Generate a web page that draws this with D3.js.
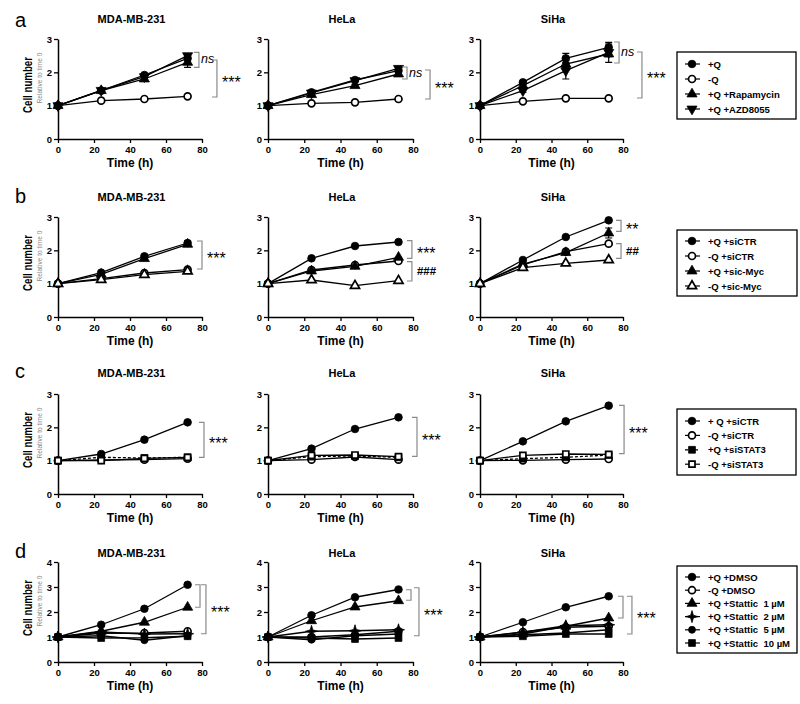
<!DOCTYPE html>
<html>
<head>
<meta charset="utf-8">
<script src="https://cdn.jsdelivr.net/npm/d3@7"></script>
<style>
  html, body { margin: 0; padding: 0; background: #fff; }
  svg { display: block; font-family: "Liberation Sans", Arial, sans-serif; }
</style>
</head>
<body>
<svg id="chart" width="800" height="704"></svg>
<script>
// ---------------- DATA ----------------
const times = [0, 24, 48, 72];
const xTicks = [0, 20, 40, 60, 80];
const yTicks3 = [0, 1, 2, 3];
const yTicks4 = [0, 1, 2, 3, 4];
const cellLines = ["MDA-MB-231", "HeLa", "SiHa"];
const panelLetters = ["a", "b", "c", "d"];

// Row a
const aLabels = ["+Q", "-Q", "+Q +Rapamycin", "+Q +AZD8055"];
const aMDA  = [[1, 1.45, 1.92, 2.42], [1, 1.15, 1.20, 1.28], [1, 1.45, 1.80, 2.30], [1, 1.46, 1.87, 2.50]];
const aMDAerr  = [[0, 0.02, 0.04, 0.08], [0, 0, 0, 0], [0, 0.02, 0.03, 0.15], [0, 0, 0.03, 0.06]];
const aHeLa = [[1, 1.40, 1.77, 2.05], [1, 1.07, 1.10, 1.20], [1, 1.33, 1.60, 1.95], [1, 1.38, 1.75, 2.12]];
const aHeLaErr = [[0, 0.03, 0.05, 0.06], [0, 0, 0, 0], [0, 0.02, 0.04, 0.05], [0, 0.02, 0.03, 0.06]];
const aSiHa = [[1, 1.70, 2.42, 2.75], [1, 1.13, 1.22, 1.22], [1, 1.60, 2.25, 2.55], [1, 1.45, 2.05, 2.60]];
const aSiHaErr = [[0, 0.04, 0.15, 0.10], [0, 0, 0, 0], [0, 0.05, 0.10, 0.08], [0, 0.05, 0.25, 0.30]];
const aSig = [
  [{x: 78.3, y1: 2.60, y2: 2.15, label: "ns"}, {x: 88.3, y1: 2.37, y2: 1.26, label: "***"}],
  [{x: 76.7, y1: 2.16, y2: 1.80, label: "ns"}, {x: 89.4, y1: 2.07, y2: 1.20, label: "***"}],
  [{x: 77.8, y1: 2.91, y2: 2.28, label: "ns"}, {x: 90.6, y1: 2.61, y2: 1.23, label: "***"}]
];

// Row b
const bLabels = ["+Q +siCTR", "-Q +siCTR", "+Q +sic-Myc", "-Q +sic-Myc"];
const bMDA  = [[1, 1.33, 1.82, 2.22], [1, 1.15, 1.32, 1.42], [1, 1.28, 1.75, 2.18], [1, 1.12, 1.27, 1.37]];
const bMDAerr  = [[0, 0.02, 0.04, 0.06], [0, 0, 0.03, 0.03], [0, 0, 0.03, 0.06], [0, 0, 0.03, 0.03]];
const bHeLa = [[1, 1.76, 2.13, 2.25], [1, 1.41, 1.56, 1.68], [1, 1.38, 1.52, 1.79], [1, 1.11, 0.94, 1.09]];
const bHeLaErr = [[0, 0, 0, 0], [0, 0, 0, 0], [0, 0, 0, 0], [0, 0, 0, 0]];
const bSiHa = [[1, 1.71, 2.40, 2.90], [1, 1.56, 1.96, 2.20], [1, 1.59, 1.93, 2.52], [1, 1.48, 1.61, 1.71]];
const bSiHaErr = [[0, 0, 0, 0], [0, 0, 0, 0], [0, 0, 0, 0.15], [0, 0, 0, 0]];
const bSig = [
  [{x: 80.0, y1: 2.28, y2: 1.44, label: "***"}],
  [{x: 79.4, y1: 2.29, y2: 1.76, label: "***"}, {x: 79.4, y1: 1.66, y2: 1.08, label: "###"}],
  [{x: 78.9, y1: 2.90, y2: 2.57, label: "**"}, {x: 78.9, y1: 2.20, y2: 1.76, label: "##"}]
];

// Row c
const cLabels = ["+ Q +siCTR", "-Q +siCTR", "+Q +siSTAT3", "-Q +siSTAT3"];
const cMDA  = [[1, 1.20, 1.63, 2.15], [1, 1.02, 1.03, 1.06], [1, 1.10, 1.08, 1.10], [1, 1.00, 1.07, 1.10]];
const cHeLa = [[1, 1.36, 1.95, 2.30], [1, 1.03, 1.11, 1.03], [1, 1.12, 1.14, 1.10], [1, 1.16, 1.17, 1.12]];
const cSiHa = [[1, 1.58, 2.18, 2.65], [1, 1.01, 1.03, 1.05], [1, 1.06, 1.10, 1.17], [1, 1.16, 1.20, 1.19]];
const cNoErr = [[0, 0, 0, 0], [0, 0, 0, 0], [0, 0, 0, 0], [0, 0, 0, 0]];
const cSig = [
  [{x: 81.1, y1: 2.15, y2: 1.10, label: "***"}],
  [{x: 82.2, y1: 2.30, y2: 1.13, label: "***"}],
  [{x: 80.6, y1: 2.66, y2: 1.21, label: "***"}]
];

// Row d
const dLabels = ["+Q +DMSO", "-Q +DMSO", "+Q +Stattic  1 \u00b5M", "+Q +Stattic  2 \u00b5M", "+Q +Stattic  5 \u00b5M", "+Q +Stattic  10 \u00b5M"];
const dMDA  = [[1, 1.49, 2.13, 3.09], [1, 1.15, 1.16, 1.23], [1, 1.23, 1.59, 2.19], [1, 1.20, 1.12, 1.13], [1, 1.05, 0.87, 1.05], [1, 0.96, 0.97, 1.03]];
const dHeLa = [[1, 1.87, 2.59, 2.90], [1, 1.00, 1.09, 1.23], [1, 1.65, 2.20, 2.45], [1, 1.23, 1.25, 1.29], [1, 0.89, 1.05, 1.12], [1, 0.96, 0.92, 0.96]];
const dSiHa = [[1, 1.59, 2.19, 2.63], [1, 1.20, 1.39, 1.43], [1, 1.12, 1.43, 1.76], [1, 1.19, 1.45, 1.49], [1, 1.09, 1.16, 1.29], [1, 1.03, 1.12, 1.12]];
const dNoErr = [[0, 0, 0, 0], [0, 0, 0, 0], [0, 0, 0, 0], [0, 0, 0, 0], [0, 0, 0, 0], [0, 0, 0, 0]];
const dSig = [
  [{x: 78.9, y1: 3.09, y2: 2.19, label: ""}, {x: 82.2, y1: 3.09, y2: 1.13, label: "***"}],
  [{x: 78.9, y1: 2.89, y2: 2.47, label: ""}, {x: 83.3, y1: 2.97, y2: 1.05, label: "***"}],
  [{x: 80.0, y1: 2.63, y2: 1.76, label: ""}, {x: 85.0, y1: 2.63, y2: 1.12, label: "***"}]
];

// ---------------- STYLES / LAYOUT ----------------
const aMarks = ["circle", "circleOpen", "triUp", "triDown"];
const bMarks = ["circle", "circleOpen", "triUp", "triOpen"];
const cMarks = ["circle", "circleOpen", "square", "squareOpen"];
const cDash  = [null, null, "3,2", null];
const dMarks = ["circle", "circleOpen", "triUp", "star4", "circleSmall", "square"];

const cols = [{x0: 58, x1: 202}, {x0: 268, x1: 413}, {x0: 480, x1: 623}];
const rowDefs = [
  {y0: 139, y1: 39,  ymax: 3, ticks: yTicks3, titleY: 23,  letterY: 27,  data: [aMDA, aHeLa, aSiHa], err: [aMDAerr, aHeLaErr, aSiHaErr], sig: aSig, marks: aMarks, dash: [], labels: aLabels,
   legend: {x0: 677, x1: 796, y0: 52, y1: 119, first: 64, step: 15}},
  {y0: 317, y1: 217, ymax: 3, ticks: yTicks3, titleY: 201, letterY: 203, data: [bMDA, bHeLa, bSiHa], err: [bMDAerr, bHeLaErr, bSiHaErr], sig: bSig, marks: bMarks, dash: [], labels: bLabels,
   legend: {x0: 677, x1: 797, y0: 230, y1: 296, first: 241, step: 15}},
  {y0: 494, y1: 394, ymax: 3, ticks: yTicks3, titleY: 377, letterY: 378, data: [cMDA, cHeLa, cSiHa], err: [cNoErr, cNoErr, cNoErr], sig: cSig, marks: cMarks, dash: cDash, labels: cLabels,
   legend: {x0: 677, x1: 796, y0: 409, y1: 475, first: 421, step: 14.4}},
  {y0: 662, y1: 562, ymax: 4, ticks: yTicks4, titleY: 557, letterY: 558, data: [dMDA, dHeLa, dSiHa], err: [dNoErr, dNoErr, dNoErr], sig: dSig, marks: dMarks, dash: [], labels: dLabels,
   legend: {x0: 677, x1: 797, y0: 566, y1: 653, first: 577, step: 13.2}}
];

const svg = d3.select("#chart");

const star4 = {
  draw(ctx, size) {
    const R = Math.sqrt(size) * 0.75, r = R * 0.32;
    for (let i = 0; i < 8; i++) {
      const a = -Math.PI / 2 + i * Math.PI / 4;
      const rr = i % 2 === 0 ? R : r;
      const px = rr * Math.cos(a), py = rr * Math.sin(a);
      if (i === 0) ctx.moveTo(px, py); else ctx.lineTo(px, py);
    }
    ctx.closePath();
  }
};

function marker(g, type, x, y) {
  let sym = d3.symbolCircle, size = 44, fill = "#000", rot = 0;
  switch (type) {
    case "circle": sym = d3.symbolCircle; size = 46; break;
    case "circleOpen": sym = d3.symbolCircle; size = 38; fill = "#fff"; break;
    case "circleSmall": sym = d3.symbolCircle; size = 38; break;
    case "triUp": sym = d3.symbolTriangle; size = 44; break;
    case "triDown": sym = d3.symbolTriangle; size = 44; rot = 180; break;
    case "triOpen": sym = d3.symbolTriangle; size = 36; fill = "#fff"; break;
    case "square": sym = d3.symbolSquare; size = 46; break;
    case "squareOpen": sym = d3.symbolSquare; size = 36; fill = "#fff"; break;
    case "star4": sym = star4; size = 64; break;
  }
  g.append("path")
    .attr("d", d3.symbol().type(sym).size(size)())
    .attr("transform", `translate(${x},${y}) rotate(${rot})`)
    .attr("fill", fill)
    .attr("stroke", "#000")
    .attr("stroke-width", fill === "#fff" ? 1.7 : 0.8);
}

function sigBracket(g, xs, ys, b) {
  const x = xs(b.x), ya = ys(b.y1), yb = ys(b.y2);
  g.append("path")
    .attr("d", `M${x - 5},${ya}H${x}V${yb}H${x - 5}`)
    .attr("fill", "none").attr("stroke", "#8a8a8a").attr("stroke-width", 1.2);
  if (!b.label) return;
  const mid = (ya + yb) / 2;
  const t = g.append("text").attr("x", x + (b.label === "ns" ? 2 : 5)).text(b.label).attr("fill", "#000");
  if (b.label === "ns") {
    t.attr("y", mid + 3.5).attr("font-size", 12.5).attr("font-style", "italic");
  } else if (b.label[0] === "*") {
    t.attr("y", mid + 9).attr("font-size", 16);
  } else {
    t.attr("y", mid + 4).attr("font-size", 11.5).attr("font-weight", "bold");
  }
}

rowDefs.forEach((row, ri) => {
  // panel letter
  svg.append("text").attr("x", 15).attr("y", row.letterY)
    .attr("font-size", 20).text(panelLetters[ri]);

  cols.forEach((col, ci) => {
    const g = svg.append("g");
    const xs = d3.scaleLinear().domain([0, 80]).range([col.x0, col.x1]);
    const ys = d3.scaleLinear().domain([0, row.ymax]).range([row.y0, row.y1]);

    // title
    g.append("text").attr("x", (col.x0 + col.x1) / 2 + 1.5).attr("y", row.titleY)
      .attr("text-anchor", "middle").attr("font-size", 11).attr("font-weight", "bold")
      .text(cellLines[ci]);

    // axes
    const xa = g.append("g").attr("transform", `translate(0,${row.y0})`)
      .call(d3.axisBottom(xs).tickValues(xTicks).tickSize(4).tickSizeOuter(0).tickPadding(3));
    const ya = g.append("g").attr("transform", `translate(${col.x0},0)`)
      .call(d3.axisLeft(ys).tickValues(row.ticks).tickSize(4).tickSizeOuter(0).tickPadding(2).tickFormat(d3.format("d")));
    [xa, ya].forEach(a => {
      a.select(".domain").attr("stroke-width", 1.5);
      a.selectAll(".tick line").attr("stroke-width", 1.3);
      a.selectAll("text").attr("font-size", 9.5).attr("font-weight", "bold")
        .attr("font-family", "'Liberation Sans', Arial, sans-serif");
    });

    g.append("text").attr("x", (col.x0 + col.x1) / 2).attr("y", row.y0 + 28)
      .attr("text-anchor", "middle").attr("font-size", 12).attr("font-weight", "bold")
      .text("Time (h)");

    if (ci === 0) {
      const cy = (row.y0 + row.y1) / 2 - 4;
      g.append("text").attr("transform", `translate(32,${cy}) rotate(-90)`)
        .attr("text-anchor", "middle").attr("font-size", 13).attr("font-weight", "bold")
        .attr("textLength", 56).attr("lengthAdjust", "spacingAndGlyphs")
        .text("Cell number");
      g.append("text").attr("transform", `translate(42,${cy - 7}) rotate(-90)`)
        .attr("text-anchor", "middle").attr("font-size", 6.6).attr("fill", "#8c8c8c")
        .text("Relative  to time 0");
    }

    const series = row.data[ci];
    const errs = row.err[ci];
    const line = d3.line().x((d, i) => xs(times[i])).y(d => ys(d));

    series.forEach((s, si) => {
      g.append("path").attr("d", line(s)).attr("fill", "none")
        .attr("stroke", "#000").attr("stroke-width", 1.3)
        .attr("stroke-dasharray", row.dash[si] || null);
    });
    series.forEach((s, si) => {
      s.forEach((v, i) => {
        const e = errs[si][i];
        if (e > 0) {
          const x = xs(times[i]);
          g.append("path")
            .attr("d", `M${x},${ys(v - e)}V${ys(v + e)}M${x - 3.5},${ys(v - e)}H${x + 3.5}M${x - 3.5},${ys(v + e)}H${x + 3.5}`)
            .attr("stroke", "#000").attr("stroke-width", 1.2).attr("fill", "none");
        }
      });
    });
    series.forEach((s, si) => {
      s.forEach((v, i) => marker(g, row.marks[si], xs(times[i]), ys(v)));
    });

    row.sig[ci].forEach(b => sigBracket(g, xs, ys, b));
  });

  // legend
  const L = row.legend;
  const lg = svg.append("g");
  lg.append("rect").attr("x", L.x0).attr("y", L.y0).attr("width", L.x1 - L.x0).attr("height", L.y1 - L.y0)
    .attr("fill", "#fff").attr("stroke", "#000").attr("stroke-width", 1.3);
  row.labels.forEach((lab, i) => {
    const y = L.first + i * L.step;
    lg.append("line").attr("x1", 685).attr("x2", 700).attr("y1", y).attr("y2", y)
      .attr("stroke", "#000").attr("stroke-width", 1.2)
      .attr("stroke-dasharray", row.dash[i] || null);
    marker(lg, row.marks[i], 692, y);
    lg.append("text").attr("x", 708).attr("y", y + 3.5).attr("font-size", 9.5)
      .attr("font-weight", "bold").attr("xml:space", "preserve").style("white-space", "pre").text(lab);
  });
});
</script>
</body>
</html>
